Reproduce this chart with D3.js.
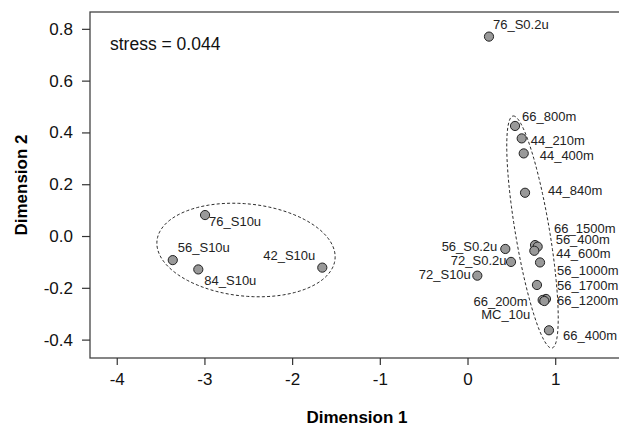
<!DOCTYPE html>
<html>
<head>
<meta charset="utf-8">
<script src="https://cdn.jsdelivr.net/npm/d3@7"></script>
<style>
  body { margin: 0; background: #fff; }
  svg { display: block; font-family: "Liberation Sans", Arial, Helvetica, sans-serif; }
</style>
</head>
<body>
<div id="chart"></div>
<script>
// sample names and their MDS coordinates
const names = ["76_S0.2u", "66_800m", "44_210m", "44_400m", "44_840m", "66_1500m", "56_400m", "44_600m",
  "56_1000m", "56_1700m", "66_1200m", "66_200m", "MC_10u", "66_400m", "56_S0.2u", "72_S0.2u", "72_S10u",
  "76_S10u", "56_S10u", "84_S10u", "42_S10u"];
const dim1 = [0.245, 0.542, 0.618, 0.641, 0.656, 0.770, 0.800, 0.762,
  0.827, 0.792, 0.895, 0.857, 0.876, 0.929, 0.431, 0.496, 0.112,
  -2.993, -3.361, -3.070, -1.656];
const dim2 = [0.770, 0.425, 0.377, 0.319, 0.167, -0.035, -0.041, -0.057,
  -0.102, -0.189, -0.243, -0.247, -0.251, -0.364, -0.050, -0.100, -0.153,
  0.081, -0.093, -0.129, -0.122];

const xTicks = [-4, -3, -2, -1, 0, 1];
const yTicks = [-0.4, -0.2, 0.0, 0.2, 0.4, 0.6, 0.8];
const stress = 0.044;

// group ellipses: centre plus two conjugate half-axes, all in data units
const ellipseCentres = [[-2.526, -0.054], [0.741, 0.0154]];
const ellipseAxisU = [[1.015, -0.036], [-0.222, 0.448]];
const ellipseAxisV = [[0.055, 0.177], [0.192, 0.0108]];

// label placement around each point (pixels)
const labelPos = {
  "76_S0.2u": [4, -8, "start"], "66_800m": [7, -5, "start"], "44_210m": [9, 7, "start"],
  "44_400m": [16, 7, "start"], "44_840m": [23, 2, "start"], "66_1500m": [19, -12, "start"],
  "56_400m": [18, -3, "start"], "44_600m": [22, 7, "start"], "56_1000m": [17, 13, "start"],
  "56_1700m": [20, 5, "start"], "66_1200m": [11, 6, "start"], "66_200m": [-15, 6.5, "end"],
  "MC_10u": [-14, 18, "end"], "66_400m": [14, 10, "start"], "56_S0.2u": [-8, 2, "end"],
  "72_S0.2u": [-4.5, 3, "end"], "72_S10u": [-6.5, 3, "end"], "76_S10u": [4, 11, "start"],
  "56_S10u": [5, -8.5, "start"], "84_S10u": [6, 16, "start"], "42_S10u": [-7, -8, "end"]
};

const width = 619, height = 426;
const margin = { top: 12, left: 90, bottom: 68, right: -6 };
const points = names.map((n, i) => ({ name: n, x: dim1[i], y: dim2[i] }));

const x = d3.scaleLinear().domain([-4.305, 1.796]).range([margin.left, width - margin.right]);
const y = d3.scaleLinear().domain([-0.471, 0.865]).range([height - margin.bottom, margin.top]);

const svg = d3.select("#chart").append("svg")
  .attr("width", width)
  .attr("height", height);

// frame (right edge falls outside the picture)
svg.append("rect")
  .attr("x", x.range()[0])
  .attr("y", y.range()[1])
  .attr("width", x.range()[1] - x.range()[0])
  .attr("height", y.range()[0] - y.range()[1])
  .attr("fill", "none")
  .attr("stroke", "#444")
  .attr("stroke-width", 1.3);

const xAxis = svg.append("g")
  .attr("transform", `translate(0,${y.range()[0]})`)
  .call(d3.axisBottom(x).tickValues(xTicks).tickFormat(d3.format("d")).tickSize(7).tickPadding(8));
const yAxis = svg.append("g")
  .attr("transform", `translate(${x.range()[0]},0)`)
  .call(d3.axisLeft(y).tickValues(yTicks).tickFormat(d => d3.format(".1f")(d).replace("−", "-")).tickSize(8).tickPadding(9));

xAxis.select(".domain").remove();
yAxis.select(".domain").remove();
xAxis.selectAll("line").attr("stroke", "#333").attr("stroke-width", 1.2);
yAxis.selectAll("line").attr("stroke", "#333").attr("stroke-width", 1.2);
xAxis.selectAll("text").text(d => String(d)).attr("font-size", 17).attr("fill", "#111")
  .attr("font-family", "Liberation Sans, Arial, sans-serif");
yAxis.selectAll("text").attr("font-size", 17).attr("fill", "#111")
  .attr("font-family", "Liberation Sans, Arial, sans-serif");

svg.append("text")
  .attr("x", 357)
  .attr("y", 423)
  .attr("text-anchor", "middle")
  .attr("font-size", 17)
  .attr("font-weight", "bold")
  .text("Dimension 1");

svg.append("text")
  .attr("transform", `translate(27,${(y.range()[0] + y.range()[1]) / 2}) rotate(-90)`)
  .attr("text-anchor", "middle")
  .attr("font-size", 17)
  .attr("font-weight", "bold")
  .text("Dimension 2");

svg.append("text")
  .attr("x", 110)
  .attr("y", 50)
  .attr("font-size", 17.5)
  .attr("fill", "#111")
  .text(`stress = ${stress.toFixed(3)}`);

// dashed group ellipses
const ellipseLine = d3.line().x(d => x(d[0])).y(d => y(d[1])).curve(d3.curveLinearClosed);
ellipseCentres.forEach((c, k) => {
  const u = ellipseAxisU[k], v = ellipseAxisV[k];
  const pts = d3.range(0, 2 * Math.PI, Math.PI / 90).map(t =>
    [c[0] + u[0] * Math.cos(t) + v[0] * Math.sin(t), c[1] + u[1] * Math.cos(t) + v[1] * Math.sin(t)]);
  svg.append("path")
    .attr("d", ellipseLine(pts))
    .attr("fill", "none")
    .attr("stroke", "#111")
    .attr("stroke-width", 0.9)
    .attr("stroke-dasharray", "3,2.2");
});

svg.append("g")
  .selectAll("circle")
  .data(points)
  .join("circle")
  .attr("cx", d => x(d.x))
  .attr("cy", d => y(d.y))
  .attr("r", 4.6)
  .attr("fill", "#999")
  .attr("stroke", "#222")
  .attr("stroke-width", 1);

svg.append("g")
  .selectAll("text")
  .data(points)
  .join("text")
  .attr("x", d => x(d.x) + labelPos[d.name][0])
  .attr("y", d => y(d.y) + labelPos[d.name][1])
  .attr("text-anchor", d => labelPos[d.name][2])
  .attr("font-size", 13)
  .attr("fill", "#222")
  .text(d => d.name);
</script>
</body>
</html>
